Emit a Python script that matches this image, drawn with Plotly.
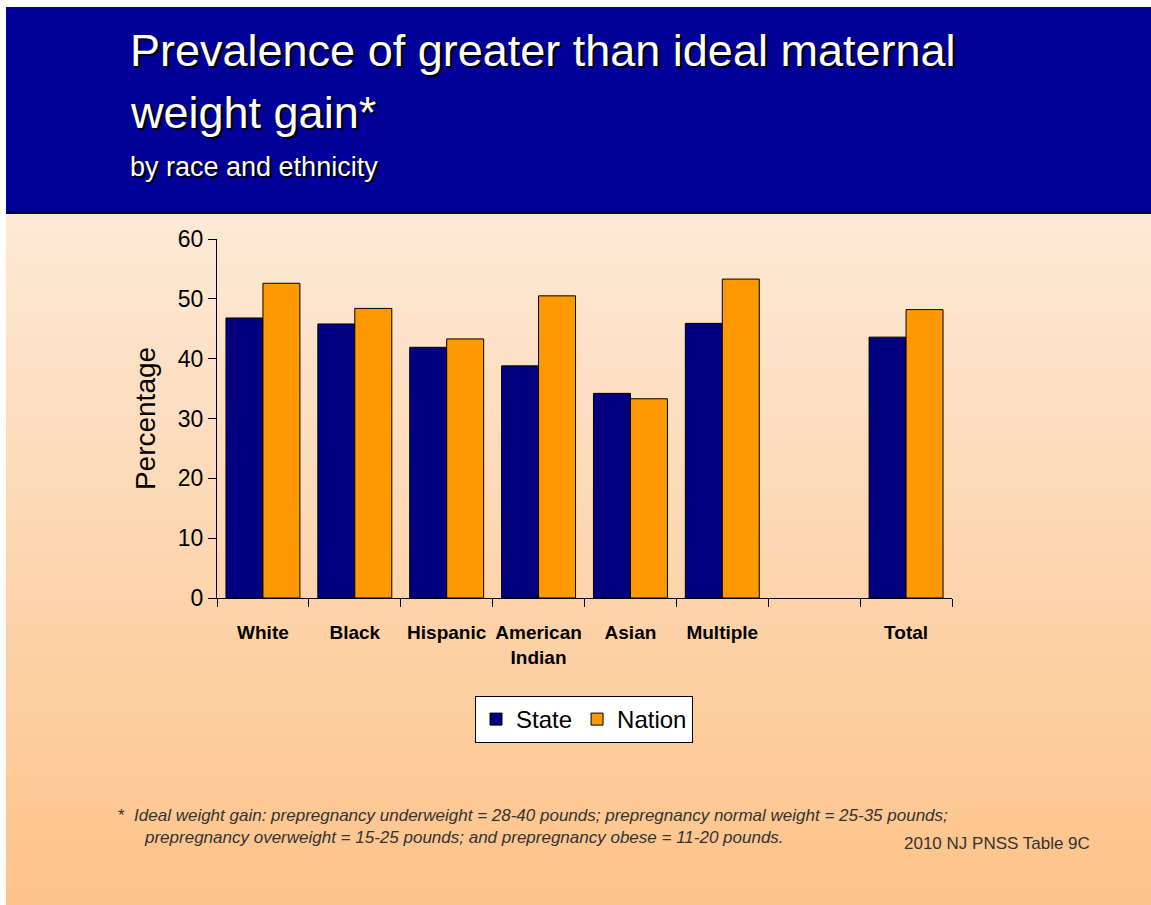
import plotly.graph_objects as go

# Categories and values (percent of women with greater than ideal weight gain)
categories = ["White", "Black", "Hispanic", "American<br>Indian", "Asian", "Multiple", " ", "Total"]
state = [46.8, 45.8, 41.9, 38.8, 34.2, 45.9, None, 43.6]
nation = [52.6, 48.4, 43.3, 50.5, 33.3, 53.3, None, 48.2]
y_ticks = [0, 10, 20, 30, 40, 50, 60]

W, H = 1151, 905
PL, PR, PT, PB = 217, 952, 239, 598  # plot area edges in pixels


def px_x(x):
    return (x - PL) / (PR - PL)


def px_y(y):
    return (PB - y) / (PB - PT)


FONT = "Liberation Sans, Arial, sans-serif"

fig = go.Figure()
fig.add_bar(name="State", x=categories, y=state,
            marker=dict(color="#000080", line=dict(color="#000000", width=1)))
fig.add_bar(name="Nation", x=categories, y=nation,
            marker=dict(color="#FF9900", line=dict(color="#000000", width=1)))

shapes = []
# peach background, vertical gradient built from thin bands
top_c = (253, 233, 214)
bot_c = (253, 195, 137)
y0, y1 = 213, H
n = 80
for i in range(n):
    a = y0 + (y1 - y0) * i / n
    b = y0 + (y1 - y0) * (i + 1) / n + 1
    t = i / (n - 1)
    c = tuple(round(top_c[k] + (bot_c[k] - top_c[k]) * t) for k in range(3))
    shapes.append(dict(type="rect", xref="paper", yref="paper", layer="below",
                       x0=px_x(6), x1=px_x(W + 2), y0=px_y(a), y1=px_y(b),
                       fillcolor="rgb(%d,%d,%d)" % c, line=dict(width=0)))
# header band
shapes.append(dict(type="rect", xref="paper", yref="paper", layer="below",
                   x0=px_x(6), x1=px_x(W + 2), y0=px_y(7), y1=px_y(214),
                   fillcolor="#000099", line=dict(width=0)))
shapes.append(dict(type="rect", xref="paper", yref="paper", layer="below",
                   x0=px_x(6), x1=px_x(W + 2), y0=px_y(211), y1=px_y(214),
                   fillcolor="#00004A", line=dict(width=0)))

shadow = "2px 2px 1px #000000"
annotations = [
    dict(text="Prevalence of greater than ideal maternal", x=px_x(128), y=px_y(51),
         xanchor="left", yanchor="middle",
         font=dict(family=FONT, size=45, color="white", shadow=shadow)),
    dict(text="weight gain*", x=px_x(128), y=px_y(113),
         xanchor="left", yanchor="middle",
         font=dict(family=FONT, size=45, color="white", shadow=shadow)),
    dict(text="by race and ethnicity", x=px_x(128), y=px_y(167),
         xanchor="left", yanchor="middle",
         font=dict(family=FONT, size=27, color="white", shadow=shadow)),
    dict(text="*  <i>Ideal weight gain: prepregnancy underweight = 28-40 pounds; "
              "prepregnancy normal weight = 25-35 pounds;</i>",
         x=px_x(116), y=px_y(815), xanchor="left", yanchor="middle",
         font=dict(family=FONT, size=17, color="#333333")),
    dict(text="<i>prepregnancy overweight = 15-25 pounds; and prepregnancy obese = 11-20 pounds.</i>",
         x=px_x(142), y=px_y(837), xanchor="left", yanchor="middle",
         font=dict(family=FONT, size=17, color="#333333")),
    dict(text="2010 NJ PNSS Table 9C", x=px_x(1092), y=px_y(843),
         xanchor="right", yanchor="middle",
         font=dict(family=FONT, size=17, color="#333333")),
]
for a in annotations:
    a.update(xref="paper", yref="paper", showarrow=False)

fig.update_layout(
    width=W, height=H,
    margin=dict(l=PL, r=W - PR, t=PT, b=H - PB, pad=0),
    paper_bgcolor="white", plot_bgcolor="rgba(0,0,0,0)",
    barmode="group", bargap=0.195, bargroupgap=0,
    shapes=shapes, annotations=annotations,
    font=dict(family=FONT, color="black"),
    legend=dict(orientation="h", x=px_x(584), y=px_y(696), xanchor="center", yanchor="top",
                bgcolor="white", bordercolor="black", borderwidth=1,
                font=dict(family=FONT, size=24, color="black"),
                itemwidth=30, traceorder="normal"),
    showlegend=True,
)
fig.update_xaxes(
    type="category", tickson="boundaries", ticks="outside", ticklen=8, tickcolor="black",
    tickangle=0, ticklabelstandoff=17,
    showline=True, linecolor="black", linewidth=1, showgrid=False,
    tickfont=dict(family=FONT, size=19, color="black", weight="bold"),
)
fig.update_yaxes(
    range=[0, 60], tickvals=y_ticks, ticks="outside", ticklen=8, tickcolor="black",
    showline=True, linecolor="black", linewidth=1, showgrid=False, zeroline=False,
    tickfont=dict(family=FONT, size=23, color="black"),
    title=dict(text="Percentage", font=dict(family=FONT, size=28, color="black"), standoff=14),
)

fig.write_html("out.html")
